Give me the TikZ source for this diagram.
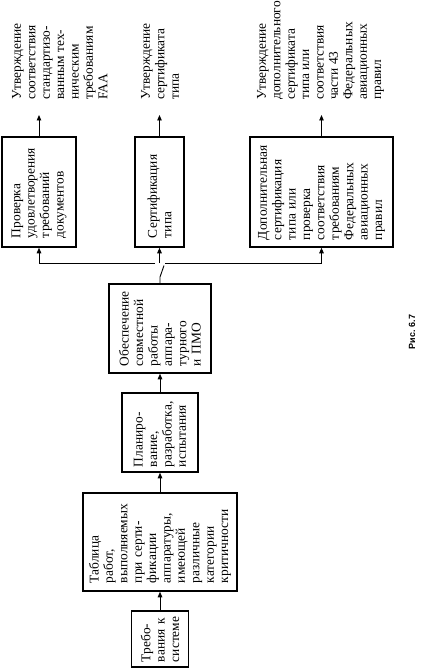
\documentclass[tikz,border=0pt]{standalone}
\usepackage{fontspec}
\setmainfont{Liberation Serif}
\newfontfamily\capfont{Liberation Sans}
\usetikzlibrary{arrows.meta}
\begin{document}
\begin{tikzpicture}[x=1pt,y=-1pt,
  txt/.style={font=\fontsize{13.4}{14.4}\selectfont},
  blk/.style={txt, draw, line width=1.5pt, rotate=90, align=left, inner ysep=0pt},
  lbl/.style={txt, rotate=90, align=left, inner sep=0pt, anchor=north west},
  con/.style={line width=0.9pt},
  arr/.style={con, -{Triangle[length=5.5pt,width=4.5pt]}}]
\useasboundingbox (0,0) rectangle (424,668);

% upper row of boxes
\node[blk, minimum height=74pt, inner xsep=9pt, text width=92pt] (p) at (39,192)
  {Проверка\\удовлетворения\\требований\\документов};
\node[blk, minimum height=49pt, inner xsep=9pt, text width=92pt] (s) at (159.5,192)
  {Сертификация\\типа};
\node[blk, minimum height=143pt, inner xsep=7pt, text width=96pt] (d) at (321.5,192)
  {Дополнительная\\сертификация\\типа или\\проверка\\соответствия\\требованиям\\Федеральных\\авиационных\\правил};

% chain of boxes
\node[blk, minimum height=102pt, inner xsep=7pt, text width=75pt] (o) at (160,328.5)
  {Обеспечение\\совместной\\работы\\аппара-\\турного\\и ПМО};
\node[blk, minimum height=76pt, inner xsep=5pt, text width=69pt] (pl) at (160,432.5)
  {Планиро-\\вание,\\разработка,\\испытания};
\node[blk, minimum height=154pt, inner xsep=8pt, text width=82pt] (t) at (160,542)
  {Таблица\\работ,\\выполняемых\\при серти-\\фикации\\аппаратуры,\\имеющей\\различные\\категории\\критичности};
\node[blk, minimum height=57pt, inner xsep=5pt, text width=46pt] (r) at (160,639)
  {Требо-\\вания к\\системе};

% output labels
\node[lbl] (l1) at (12,100)
  {Утверждение\\соответствия\\стандартизо-\\ванным тех-\\ническим\\требованиям\\FAA};
\node[lbl] (l2) at (141,100)
  {Утверждение\\сертификата\\типа};
\node[lbl] (l3) at (257,100)
  {Утверждение\\дополнительного\\сертификата\\типа или\\соответствия\\части 43\\Федеральных\\авиационных\\правил};

\node[rotate=90, inner sep=0pt, font=\capfont\bfseries\fontsize{9}{10}\selectfont] (fig) at (412,332) {Рис. 6.7};

% coordinates
\coordinate (up) at (0,115);
\coordinate (gapL) at (155,263);
\coordinate (gapR) at (165,263);
\coordinate (sw) at (0,277);
\coordinate (swe) at (164,265.5);

% arrows to labels
\draw[arr] (p.east) -- (p.east |- up);
\draw[arr] (s.east) -- (s.east |- up);
\draw[arr] (d.east) -- (d.east |- up);

% chain
\draw[arr] (r.east) -- (t.west);
\draw[arr] (t.east) -- (pl.west);
\draw[arr] (pl.east) -- (o.west);

% bus with break
\draw[arr] (gapL) -- (p.west |- gapL) -- (p.west);
\draw[arr] (gapR) -- (d.west |- gapR) -- (d.west);
\draw[arr] (s.west |- gapL) -- (s.west);
\draw[con] (o.east) -- (o.east |- sw) -- (swe);
\end{tikzpicture}
\end{document}
